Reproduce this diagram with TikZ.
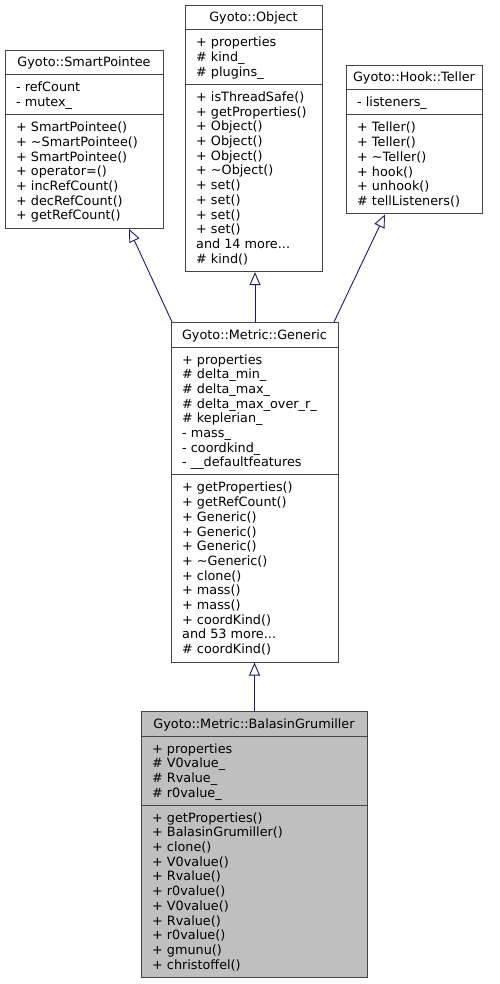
\documentclass[tikz,border=0pt]{standalone}
\usepackage{fontspec}
\setmainfont{DejaVu Sans}
\usetikzlibrary{arrows.meta}
\definecolor{edgeblue}{HTML}{191970}
\definecolor{boxline}{HTML}{444444}
\definecolor{focusfill}{HTML}{BFBFBF}
\newcommand\threedots{...}
\tikzset{
  classbox/.style={draw=boxline, line width=1pt, fill=white, inner sep=0pt, anchor=north west},
  focusbox/.style={classbox, fill=focusfill},
  sepline/.style={draw=boxline, line width=1pt},
  classtitle/.style={anchor=base, inner sep=0pt, font=\fontsize{12.8}{14.7}\selectfont},
  member/.style={anchor=base west, inner sep=0pt, font=\fontsize{12.8}{14.7}\selectfont},
  inherit/.style={draw=edgeblue, line width=0.9pt, -{Triangle[open, length=13pt, width=11pt, line width=0.9pt]}},
}
% #1 style, #2 name, #3 left, #4 right, #5 top, #6 title, #7 attributes, #8 methods
\newcommand\umlclass[8]{%
  \foreach \itm [count=\ii] in {#7} {\xdef\nA{\ii}}%
  \foreach \itm [count=\ii] in {#8} {\xdef\nM{\ii}}%
  \pgfmathsetmacro\sepA{#5+25}%
  \pgfmathsetmacro\sepB{\sepA+10.3+\nA*14.7}%
  \pgfmathsetmacro\bott{\sepB+10.3+\nM*14.7}%
  \pgfmathsetmacro\boxw{#4-#3}%
  \pgfmathsetmacro\boxh{\bott-#5}%
  \pgfmathsetmacro\cmid{(#3+#4)/2}%
  \node[#1, minimum width=\boxw pt, minimum height=\boxh pt] (#2) at (#3pt,-#5pt) {};
  \draw[sepline] (#3pt,-\sepA pt) -- (#4pt,-\sepA pt);
  \draw[sepline] (#3pt,-\sepB pt) -- (#4pt,-\sepB pt);
  \node[classtitle] (#2-t) at (\cmid pt,-#5pt-17pt) {#6};
  \foreach \itm [count=\ii from 0] in {#7}
    \node[member] (#2-a\ii) at (#3pt+11pt,-\sepA pt-17pt-\ii*14.7pt) {\itm};
  \foreach \itm [count=\ii from 0] in {#8}
    \node[member] (#2-m\ii) at (#3pt+11pt,-\sepB pt-17pt-\ii*14.7pt) {\itm};
}
\begin{document}
\begin{tikzpicture}
\useasboundingbox (0,0) rectangle (499pt,-984pt);
\umlclass{classbox}{sp}{5}{163}{50}{Gyoto::SmartPointee}
  {- refCount, - mutex\_}
  {+ SmartPointee(), + \textasciitilde SmartPointee(), + SmartPointee(), + operator=(), + incRefCount(), + decRefCount(), + getRefCount()}
\umlclass{classbox}{obj}{185}{322}{5}{Gyoto::Object}
  {+ properties, \# kind\_, \# plugins\_}
  {+ isThreadSafe(), + getProperties(), + Object(), + Object(), + Object(), + \textasciitilde Object(), + set(), + set(), + set(), + set(), and 14 more\threedots, \# kind()}
\umlclass{classbox}{tel}{346}{482}{65}{Gyoto::Hook::Teller}
  {- listeners\_}
  {+ Teller(), + Teller(), + \textasciitilde Teller(), + hook(), + unhook(), \# tellListeners()}
\umlclass{classbox}{gen}{171}{338}{322}{Gyoto::Metric::Generic}
  {+ properties, \# delta\_min\_, \# delta\_max\_, \# delta\_max\_over\_r\_, \# keplerian\_, - mass\_, - coordkind\_, - \_\_defaultfeatures}
  {+ getProperties(), + getRefCount(), + Generic(), + Generic(), + Generic(), + \textasciitilde Generic(), + clone(), + mass(), + mass(), + coordKind(), and 53 more\threedots, \# coordKind()}
\umlclass{focusbox}{bal}{141}{367}{711}{Gyoto::Metric::BalasinGrumiller}
  {+ properties, \# V0value\_, \# Rvalue\_, \# r0value\_}
  {+ getProperties(), + BalasinGrumiller(), + clone(), + V0value(), + Rvalue(), + r0value(), + V0value(), + Rvalue(), + r0value(), + gmunu(), + christoffel()}
\draw[inherit] (gen.north) -- (gen.north |- obj.south);
\draw[inherit] (bal.north) -- (bal.north |- gen.south);
\draw[inherit] ([xshift=1pt]gen.north west) -- ([xshift=-35pt]sp.south east);
\draw[inherit] ([xshift=-5pt]gen.north east) -- ([xshift=39pt]tel.south west);
\end{tikzpicture}
\end{document}
